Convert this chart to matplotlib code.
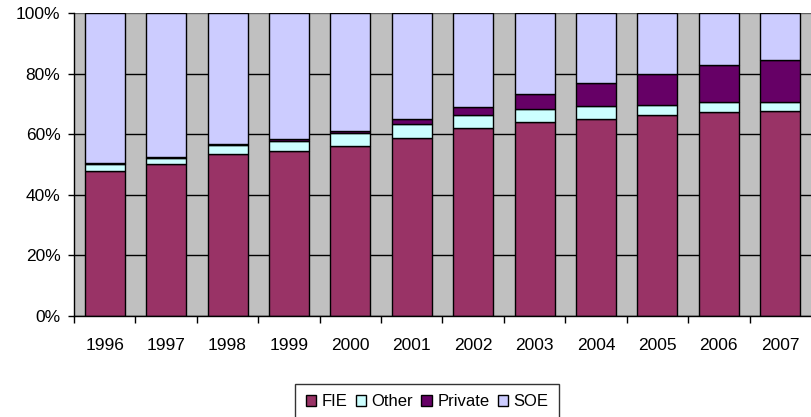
import numpy as np
import matplotlib
matplotlib.use('Agg')
import matplotlib.pyplot as plt
from matplotlib.ticker import PercentFormatter

years = ['1996', '1997', '1998', '1999', '2000', '2001',
         '2002', '2003', '2004', '2005', '2006', '2007']
fie = [47.9, 50.1, 53.4, 54.4, 56.1, 58.7, 61.9, 64.0, 65.1, 66.2, 67.2, 67.7]
other = [2.2, 2.2, 3.2, 3.4, 4.2, 4.6, 4.6, 4.3, 4.3, 3.6, 3.4, 2.9]
private = [0.3, 0.2, 0.2, 0.7, 0.7, 1.6, 2.5, 4.9, 7.6, 10.0, 12.3, 13.8]
soe = [49.6, 47.5, 43.2, 41.5, 39.0, 35.1, 31.0, 26.8, 23.0, 20.2, 17.1, 15.6]

colors = {'FIE': '#993366', 'Other': '#CCFFFF', 'Private': '#660066', 'SOE': '#CCCCFF'}

plt.rcParams['font.family'] = ['Liberation Sans', 'DejaVu Sans']

fig = plt.figure(figsize=(8.11, 4.17), dpi=100)
ax = fig.add_axes([74 / 811, (417 - 316) / 417, 737 / 811, 303 / 417])
ax.set_facecolor('#C0C0C0')

x = np.arange(len(years))
bottom = np.zeros(len(years))
for name, vals in [('FIE', fie), ('Other', other), ('Private', private), ('SOE', soe)]:
    ax.bar(x, vals, width=0.65, bottom=bottom, color=colors[name],
           edgecolor='black', linewidth=1.0, label=name, zorder=3)
    bottom += np.array(vals)

ax.set_xlim(-0.5, len(years) - 0.5)
ax.set_ylim(0, 100)
ax.set_yticks(np.arange(0, 101, 20))
ax.yaxis.set_major_formatter(PercentFormatter(decimals=0))
ax.yaxis.grid(True, color='black', linewidth=1.0, zorder=1)
ax.get_ygridlines()[-1].set_color('#606060')

ax.set_xticks(x)
ax.set_xticklabels(years)
ax.set_xticks(np.arange(-0.5, len(years) - 0.5, 1), minor=True)
ax.tick_params(axis='x', which='major', length=0, pad=16, labelsize=12.5)
ax.tick_params(axis='x', which='minor', length=5, width=1, color='black', direction='out')
ax.tick_params(axis='y', length=4.3, width=1, pad=5.5, labelsize=12.5, direction='out')

for s in ['top', 'right']:
    ax.spines[s].set_visible(False)
for s in ['left', 'bottom']:
    ax.spines[s].set_color('black')
    ax.spines[s].set_linewidth(1.0)
    ax.spines[s].set_zorder(4)

leg = fig.legend(loc='upper center', bbox_to_anchor=(427 / 811, 1 - 384 / 417),
                 ncol=4, frameon=True, fancybox=False, fontsize=12,
                 handlelength=0.65, handleheight=0.65, handletextpad=0.3,
                 columnspacing=0.5, borderpad=0.62, borderaxespad=0)
leg.get_frame().set_edgecolor('black')
leg.get_frame().set_linewidth(1.0)

fig.savefig('out.png', dpi=100)
